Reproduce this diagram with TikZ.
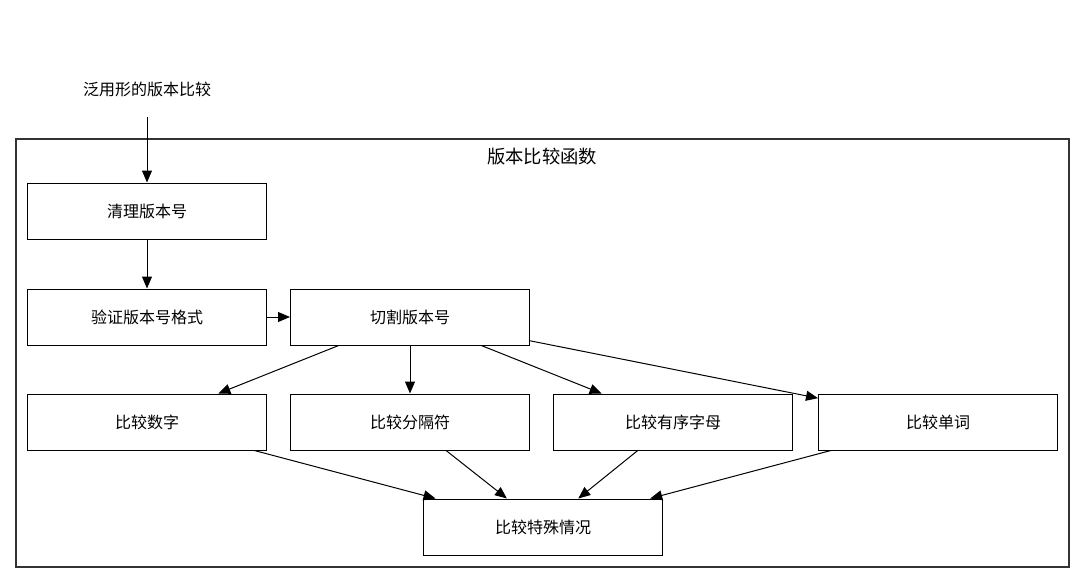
\documentclass[tikz,border=0pt]{standalone}
\usepackage{fontspec}
\setmainfont{Noto Sans CJK SC}
\usetikzlibrary{arrows.meta}
\begin{document}
\begin{tikzpicture}[x=1pt,y=-1pt,
  box/.style={draw=black,line width=1pt,minimum width=239pt,minimum height=56pt,inner sep=0pt,font=\fontsize{16}{18}\selectfont},
  conn/.style={draw=black,line width=1pt,-{Triangle[length=12pt,width=10pt]}},
  lbl/.style={inner sep=0pt,font=\fontsize{16}{18}\selectfont}]
\useasboundingbox (0,0) rectangle (1085,584);
\fill[white] (0,0) rectangle (1085,584);
\draw[black!80,line width=1.1pt] (16,139) rectangle (1069,567);
\node[lbl,font=\fontsize{18.3}{20}\selectfont] (title) at (542,157) {版本比较函数};
\node[lbl] (start) at (147,89) {泛用形的版本比较};
\coordinate (startend) at (147,117);
\node[box] (clean) at (147,211) {清理版本号};
\node[box] (verify) at (147,317) {验证版本号格式};
\node[box] (split) at (410,317) {切割版本号};
\node[box] (num) at (147,422) {比较数字};
\node[box] (sep) at (410,422) {比较分隔符};
\node[box] (alpha) at (673,422) {比较有序字母};
\node[box] (word) at (938,422) {比较单词};
\node[box] (special) at (543,527) {比较特殊情况};
\draw[conn] (startend) -- (clean);
\draw[conn] (clean) -- (verify);
\draw[conn] (verify) -- (split);
\draw[conn] (split) -- (num);
\draw[conn] (split) -- (sep);
\draw[conn] (split) -- (alpha);
\draw[conn] (split) -- (word);
\draw[conn] (num) -- (special);
\draw[conn] (sep) -- (special);
\draw[conn] (alpha) -- (special);
\draw[conn] (word) -- (special);
\end{tikzpicture}
\end{document}
